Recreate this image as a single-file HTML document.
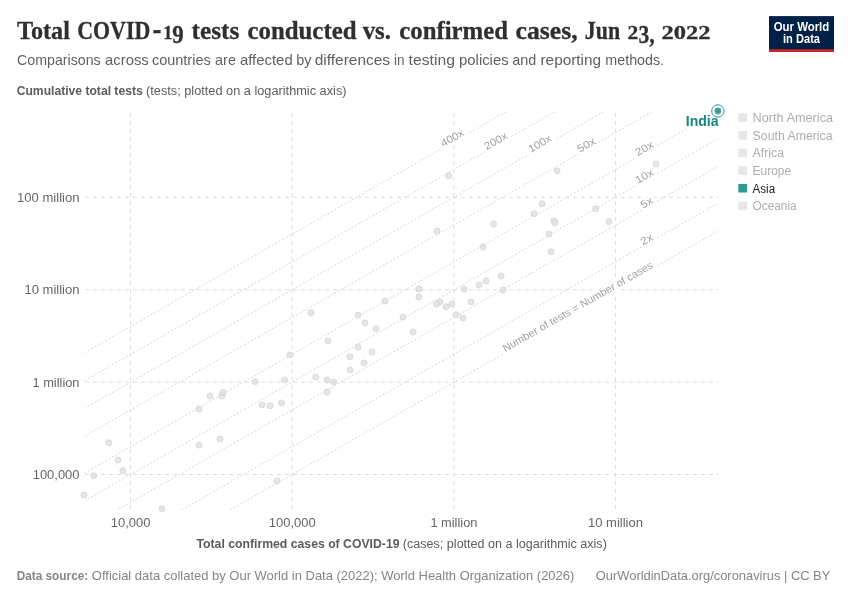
<!DOCTYPE html>
<html lang="en"><head><meta charset="utf-8"><title>Total COVID-19 tests conducted vs. confirmed cases</title>
<style>
html,body{margin:0;padding:0;background:#fff;}
body{width:850px;height:600px;overflow:hidden;}
svg{display:block;}
text{font-family:"Liberation Sans",sans-serif;}
text.title{font-family:"Liberation Serif",serif;font-weight:bold;font-size:26.2px;fill:#2f2f2f;stroke:#2f2f2f;stroke-width:0.3px;}
text.sub{font-size:15px;fill:#5f5f5f;}
.ax{font-size:12px;fill:#5b5b5b;}
.tick{font-size:12.4px;fill:#666;}
.foot{font-size:13px;fill:#858585;}
.leg{font-size:12px;fill:#adadad;}
.cmp{font-size:10.6px;fill:#a0a0a0;}
b,.b{font-weight:bold;}
</style></head><body>
<svg width="850" height="600" viewBox="0 0 850 600">
<rect width="850" height="600" fill="#fff"/>
<text class="title"><tspan x="17.0" y="38.6" textLength="52.9" lengthAdjust="spacingAndGlyphs">Total</tspan> <tspan x="77.2" y="38.6" textLength="73.1" lengthAdjust="spacingAndGlyphs">COVID</tspan><tspan x="152.6" y="40.2" textLength="9.0" lengthAdjust="spacingAndGlyphs" style="font-size:34px">-</tspan><tspan x="163.2" y="38.6" textLength="9.2" lengthAdjust="spacingAndGlyphs" style="font-size:19.6px">1</tspan><tspan x="172.2" y="43.2" textLength="11.4" lengthAdjust="spacingAndGlyphs">9</tspan> <tspan x="191.5" y="38.6" textLength="47.8" lengthAdjust="spacingAndGlyphs">tests</tspan> <tspan x="247.5" y="38.6" textLength="109.0" lengthAdjust="spacingAndGlyphs">conducted</tspan> <tspan x="362.7" y="38.6" textLength="28.2" lengthAdjust="spacingAndGlyphs">vs.</tspan> <tspan x="399.3" y="38.6" textLength="108.7" lengthAdjust="spacingAndGlyphs">confirmed</tspan> <tspan x="515.6" y="38.6" textLength="62.1" lengthAdjust="spacingAndGlyphs">cases,</tspan> <tspan x="584.8" y="38.6" textLength="35.3" lengthAdjust="spacingAndGlyphs">Jun</tspan> <tspan x="627.4" y="38.6" textLength="10.8" lengthAdjust="spacingAndGlyphs" style="font-size:19.6px">2</tspan><tspan x="638.4" y="43.2" textLength="16.2" lengthAdjust="spacingAndGlyphs">3,</tspan> <tspan x="661.6" y="38.6" textLength="49.0" lengthAdjust="spacingAndGlyphs" style="font-size:19.6px">2022</tspan></text>
<text class="sub"><tspan x="17.1" y="64.7" textLength="83.6" lengthAdjust="spacingAndGlyphs">Comparisons</tspan> <tspan x="105.1" y="64.7" textLength="43.6" lengthAdjust="spacingAndGlyphs">across</tspan> <tspan x="151.9" y="64.7" textLength="58.8" lengthAdjust="spacingAndGlyphs">countries</tspan> <tspan x="215.1" y="64.7" textLength="20.8" lengthAdjust="spacingAndGlyphs">are</tspan> <tspan x="239.9" y="64.7" textLength="52.8" lengthAdjust="spacingAndGlyphs">affected</tspan> <tspan x="296.3" y="64.7" textLength="15.2" lengthAdjust="spacingAndGlyphs">by</tspan> <tspan x="314.7" y="64.7" textLength="75.4" lengthAdjust="spacingAndGlyphs">differences</tspan> <tspan x="393.9" y="64.7" textLength="10.5" lengthAdjust="spacingAndGlyphs">in</tspan> <tspan x="408.6" y="64.7" textLength="46.3" lengthAdjust="spacingAndGlyphs">testing</tspan> <tspan x="459.1" y="64.7" textLength="49.5" lengthAdjust="spacingAndGlyphs">policies</tspan> <tspan x="512.3" y="64.7" textLength="24.0" lengthAdjust="spacingAndGlyphs">and</tspan> <tspan x="540.5" y="64.7" textLength="60.6" lengthAdjust="spacingAndGlyphs">reporting</tspan> <tspan x="605.3" y="64.7" textLength="58.8" lengthAdjust="spacingAndGlyphs">methods.</tspan></text>
<g><rect x="769" y="16.1" width="65" height="35.8" fill="#002147"/><rect x="769" y="49.2" width="65" height="2.7" fill="#ce261e"/>
<text x="801.5" y="30.9" text-anchor="middle" font-size="12.8" font-weight="bold" fill="#fff" textLength="55.5" lengthAdjust="spacingAndGlyphs">Our World</text>
<text x="801.5" y="42.6" text-anchor="middle" font-size="12.8" font-weight="bold" fill="#fff" textLength="37" lengthAdjust="spacingAndGlyphs">in Data</text></g>
<text class="ax" x="16.7" y="95.1"><tspan class="b" textLength="126" lengthAdjust="spacingAndGlyphs">Cumulative total tests</tspan> <tspan textLength="200.5" lengthAdjust="spacingAndGlyphs">(tests; plotted on a logarithmic axis)</tspan></text>
<g stroke="#dedede" stroke-width="1" stroke-dasharray="4 4" fill="none">
<line x1="130.6" y1="113.1" x2="130.6" y2="509.5"/>
<line x1="292.2" y1="113.1" x2="292.2" y2="509.5"/>
<line x1="453.9" y1="113.1" x2="453.9" y2="509.5"/>
<line x1="615.5" y1="113.1" x2="615.5" y2="509.5"/>
<line x1="85.0" y1="197.3" x2="718.6" y2="197.3"/>
<line x1="85.0" y1="289.7" x2="718.6" y2="289.7"/>
<line x1="85.0" y1="382.1" x2="718.6" y2="382.1"/>
<line x1="85.0" y1="474.5" x2="718.6" y2="474.5"/>
</g>
<defs><clipPath id="pc"><rect x="85" y="112" width="632.5" height="398"/></clipPath></defs>
<g clip-path="url(#pc)" stroke="#d6d6d6" stroke-width="1" stroke-dasharray="2 2" fill="none">
<line x1="60" y1="607.26" x2="740" y2="218.52"/>
<line x1="60" y1="579.45" x2="740" y2="190.71"/>
<line x1="60" y1="542.68" x2="740" y2="153.94"/>
<line x1="60" y1="514.86" x2="740" y2="126.12"/>
<line x1="60" y1="487.05" x2="740" y2="98.31"/>
<line x1="60" y1="450.28" x2="740" y2="61.54"/>
<line x1="60" y1="422.46" x2="740" y2="33.72"/>
<line x1="60" y1="394.65" x2="740" y2="5.91"/>
<line x1="60" y1="366.83" x2="740" y2="-21.91"/>
</g>
<text class="tick" x="79.5" y="201.70" text-anchor="end" textLength="62.4" lengthAdjust="spacingAndGlyphs">100 million</text>
<text class="tick" x="79.5" y="294.10" text-anchor="end" textLength="55" lengthAdjust="spacingAndGlyphs">10 million</text>
<text class="tick" x="79.5" y="386.50" text-anchor="end" textLength="47" lengthAdjust="spacingAndGlyphs">1 million</text>
<text class="tick" x="79.5" y="478.90" text-anchor="end" textLength="46.8" lengthAdjust="spacingAndGlyphs">100,000</text>
<text class="tick" x="130.6" y="527.3" text-anchor="middle" textLength="39.8" lengthAdjust="spacingAndGlyphs">10,000</text>
<text class="tick" x="292.2" y="527.3" text-anchor="middle" textLength="46.8" lengthAdjust="spacingAndGlyphs">100,000</text>
<text class="tick" x="453.9" y="527.3" text-anchor="middle" textLength="47" lengthAdjust="spacingAndGlyphs">1 million</text>
<text class="tick" x="615.5" y="527.3" text-anchor="middle" textLength="55" lengthAdjust="spacingAndGlyphs">10 million</text>
<text class="ax" x="196.5" y="548.3"><tspan class="b" textLength="203" lengthAdjust="spacingAndGlyphs">Total confirmed cases of COVID-19</tspan> <tspan textLength="204" lengthAdjust="spacingAndGlyphs">(cases; plotted on a logarithmic axis)</tspan></text>
<g fill="#e0e0e0" fill-opacity="0.85" stroke="#d2d2d2" stroke-width="0.7">
<circle cx="108.75" cy="442.75" r="3.05"/>
<circle cx="118" cy="460" r="3.05"/>
<circle cx="123" cy="470.75" r="3.05"/>
<circle cx="93.75" cy="475.75" r="3.05"/>
<circle cx="84" cy="495" r="3.05"/>
<circle cx="162" cy="508.75" r="3.05"/>
<circle cx="199" cy="409" r="3.05"/>
<circle cx="199" cy="445" r="3.05"/>
<circle cx="210" cy="396" r="3.05"/>
<circle cx="222" cy="396" r="3.05"/>
<circle cx="223" cy="392.5" r="3.05"/>
<circle cx="220" cy="439" r="3.05"/>
<circle cx="255" cy="381.75" r="3.05"/>
<circle cx="262" cy="405" r="3.05"/>
<circle cx="270" cy="405.75" r="3.05"/>
<circle cx="281.5" cy="403" r="3.05"/>
<circle cx="277" cy="481" r="3.05"/>
<circle cx="284.5" cy="380" r="3.05"/>
<circle cx="315.75" cy="377" r="3.05"/>
<circle cx="327" cy="380" r="3.05"/>
<circle cx="333.75" cy="382" r="3.05"/>
<circle cx="327" cy="392" r="3.05"/>
<circle cx="350" cy="370" r="3.05"/>
<circle cx="364" cy="363" r="3.05"/>
<circle cx="437" cy="231" r="3.05"/>
<circle cx="493.5" cy="224" r="3.05"/>
<circle cx="483" cy="247" r="3.05"/>
<circle cx="486" cy="281" r="3.05"/>
<circle cx="479" cy="284.75" r="3.05"/>
<circle cx="464" cy="289" r="3.05"/>
<circle cx="471" cy="302" r="3.05"/>
<circle cx="419" cy="289" r="3.05"/>
<circle cx="419" cy="297" r="3.05"/>
<circle cx="440" cy="301.75" r="3.05"/>
<circle cx="436.5" cy="304" r="3.05"/>
<circle cx="446" cy="306.75" r="3.05"/>
<circle cx="452" cy="304" r="3.05"/>
<circle cx="456" cy="314.75" r="3.05"/>
<circle cx="463" cy="318" r="3.05"/>
<circle cx="385" cy="301" r="3.05"/>
<circle cx="403" cy="317" r="3.05"/>
<circle cx="413" cy="332" r="3.05"/>
<circle cx="311" cy="312.75" r="3.05"/>
<circle cx="358" cy="315" r="3.05"/>
<circle cx="365" cy="323" r="3.05"/>
<circle cx="376" cy="328.75" r="3.05"/>
<circle cx="328" cy="340.75" r="3.05"/>
<circle cx="358" cy="347" r="3.05"/>
<circle cx="372" cy="352" r="3.05"/>
<circle cx="350" cy="356.75" r="3.05"/>
<circle cx="290" cy="355" r="3.05"/>
<circle cx="534" cy="213.75" r="3.05"/>
<circle cx="554" cy="220.75" r="3.05"/>
<circle cx="555" cy="222.75" r="3.05"/>
<circle cx="549" cy="234" r="3.05"/>
<circle cx="551" cy="251.75" r="3.05"/>
<circle cx="595.75" cy="208.75" r="3.05"/>
<circle cx="609" cy="221.75" r="3.05"/>
<circle cx="501" cy="276" r="3.05"/>
<circle cx="503" cy="290" r="3.05"/>
<circle cx="448.75" cy="175.75" r="3.05"/>
<circle cx="557" cy="170.75" r="3.05"/>
<circle cx="542" cy="203.75" r="3.05"/>
<circle cx="656" cy="164" r="3.05"/>
</g>
<text class="cmp" transform="translate(454,141.09) rotate(-29.76)" text-anchor="middle" textLength="25" lengthAdjust="spacingAndGlyphs" stroke="#fff" stroke-width="5" stroke-linejoin="round" paint-order="stroke">400x</text>
<text class="cmp" transform="translate(497.5,144.04) rotate(-29.76)" text-anchor="middle" textLength="25" lengthAdjust="spacingAndGlyphs" stroke="#fff" stroke-width="5" stroke-linejoin="round" paint-order="stroke">200x</text>
<text class="cmp" transform="translate(541.5,146.7) rotate(-29.76)" text-anchor="middle" textLength="25" lengthAdjust="spacingAndGlyphs" stroke="#fff" stroke-width="5" stroke-linejoin="round" paint-order="stroke">100x</text>
<text class="cmp" transform="translate(588,147.93) rotate(-29.76)" text-anchor="middle" textLength="19" lengthAdjust="spacingAndGlyphs" stroke="#fff" stroke-width="5" stroke-linejoin="round" paint-order="stroke">50x</text>
<text class="cmp" transform="translate(646,151.54) rotate(-29.76)" text-anchor="middle" textLength="19" lengthAdjust="spacingAndGlyphs" stroke="#fff" stroke-width="5" stroke-linejoin="round" paint-order="stroke">20x</text>
<text class="cmp" transform="translate(646,179.36) rotate(-29.76)" text-anchor="middle" textLength="19" lengthAdjust="spacingAndGlyphs" stroke="#fff" stroke-width="5" stroke-linejoin="round" paint-order="stroke">10x</text>
<text class="cmp" transform="translate(648.5,205.74) rotate(-29.76)" text-anchor="middle" textLength="12.5" lengthAdjust="spacingAndGlyphs" stroke="#fff" stroke-width="5" stroke-linejoin="round" paint-order="stroke">5x</text>
<text class="cmp" transform="translate(648.5,242.51) rotate(-29.76)" text-anchor="middle" textLength="12.5" lengthAdjust="spacingAndGlyphs" stroke="#fff" stroke-width="5" stroke-linejoin="round" paint-order="stroke">2x</text>
<text class="cmp" transform="translate(579.5,309.77) rotate(-29.76)" text-anchor="middle" textLength="171" lengthAdjust="spacingAndGlyphs" stroke="#fff" stroke-width="5" stroke-linejoin="round" paint-order="stroke">Number of tests = Number of cases</text>
<g><text x="718.6" y="126.1" text-anchor="end" font-size="15.3" font-weight="bold" fill="#12877f" stroke="#fff" stroke-width="5" paint-order="stroke" stroke-linejoin="round" textLength="32.8" lengthAdjust="spacingAndGlyphs">India</text>
<circle cx="717.9" cy="111.0" r="6.2" fill="#fff" stroke="#2a9590" stroke-width="1"/><circle cx="717.9" cy="111.0" r="3.2" fill="#3a9d98" stroke="#6ab5b1" stroke-width="0.6"/></g>
<rect x="738.3" y="113.30" width="8.8" height="8.6" fill="#e7e7e7"/>
<text class="leg" x="752.6" y="122.00" textLength="80.5" lengthAdjust="spacingAndGlyphs">North America</text>
<rect x="738.3" y="130.95" width="8.8" height="8.6" fill="#e7e7e7"/>
<text class="leg" x="752.6" y="139.65" textLength="80" lengthAdjust="spacingAndGlyphs">South America</text>
<rect x="738.3" y="148.60" width="8.8" height="8.6" fill="#e7e7e7"/>
<text class="leg" x="752.6" y="157.30" textLength="31.5" lengthAdjust="spacingAndGlyphs">Africa</text>
<rect x="738.3" y="166.25" width="8.8" height="8.6" fill="#e7e7e7"/>
<text class="leg" x="752.6" y="174.95" textLength="38.5" lengthAdjust="spacingAndGlyphs">Europe</text>
<rect x="738.3" y="183.90" width="8.8" height="8.6" fill="#2f9a94"/>
<text class="leg" x="752.6" y="192.60" textLength="22.5" lengthAdjust="spacingAndGlyphs" style="fill:#222">Asia</text>
<rect x="738.3" y="201.55" width="8.8" height="8.6" fill="#e7e7e7"/>
<text class="leg" x="752.6" y="210.25" textLength="44" lengthAdjust="spacingAndGlyphs">Oceania</text>
<text class="foot" x="16.7" y="580.3"><tspan class="b" textLength="71.5" lengthAdjust="spacingAndGlyphs">Data source:</tspan> <tspan textLength="482.5" lengthAdjust="spacingAndGlyphs">Official data collated by Our World in Data (2022); World Health Organization (2026)</tspan></text>
<text class="foot" x="595.8" y="580.3" textLength="234.5" lengthAdjust="spacingAndGlyphs">OurWorldinData.org/coronavirus | CC BY</text>
</svg></body></html>
